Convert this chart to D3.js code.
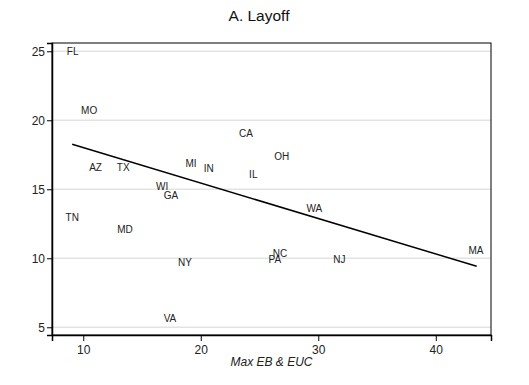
<!DOCTYPE html>
<html><head><meta charset="utf-8">
<script src="https://cdn.jsdelivr.net/npm/d3@7"></script>
<style>body{margin:0;background:#fff}svg{display:block;font-family:Arial,"Liberation Sans",sans-serif}</style>
</head><body>
<script>
const states = ["FL","MO","AZ","TX","MI","IN","CA","OH","IL","WI","GA","WA","NC","PA","NJ","MA","TN","MD","NY","VA"];
const maxEB = [9.1,10.5,11.05,13.4,19.17,20.67,23.85,26.9,24.47,16.72,17.46,29.66,26.74,26.3,31.79,43.42,9.06,13.55,18.66,17.38];
const layoff = [25.0,20.7,16.6,16.6,16.84,16.48,19.01,17.35,16.07,15.17,14.52,13.62,10.34,9.91,9.91,10.54,12.99,12.08,9.67,5.67];
const fitX = [9.06, 43.48];
const fitY = [18.26, 9.42];
const xTicks = [10,20,30,40];
const yTicks = [5,10,15,20,25];

const W=529,H=385, L=52, R=491, T=43, B=335;
const svg=d3.select("body").append("svg").attr("width",W).attr("height",H);
const x=d3.scaleLinear().domain([7.34,44.7]).range([L,R]);
const y=d3.scaleLinear().domain([4.44,25.6]).range([B,T]);

// gridlines
svg.append("g").selectAll("line").data(yTicks).join("line")
  .attr("x1",L).attr("x2",R).attr("y1",d=>y(d)).attr("y2",d=>y(d))
  .attr("stroke","#e3e3e3").attr("stroke-width",1.5);

// frame
svg.append("rect").attr("x",L).attr("y",T).attr("width",R-L).attr("height",B-T)
  .attr("fill","none").attr("stroke","#000").attr("stroke-width",1);

// axes
const xa=svg.append("g").attr("transform",`translate(0,${B})`)
  .call(d3.axisBottom(x).tickValues(xTicks).tickSize(6).tickPadding(4).tickFormat(d3.format("d")));
const ya=svg.append("g").attr("transform",`translate(${L},0)`)
  .call(d3.axisLeft(y).tickValues(yTicks).tickSize(5).tickPadding(2).tickFormat(d3.format("d")));
[xa,ya].forEach(a=>{a.select(".domain").attr("stroke","#000").attr("stroke-width",1.5);
  a.selectAll("text").attr("font-size",12).attr("fill","#222").attr("font-family","Arial,'Liberation Sans',sans-serif");
  a.selectAll(".tick line").attr("stroke","#000");});

// fit line
svg.append("path").datum(fitX.map((v,i)=>[v,fitY[i]]))
  .attr("d",d3.line().x(d=>x(d[0])).y(d=>y(d[1])))
  .attr("fill","none").attr("stroke","#000").attr("stroke-width",1.5);

// labels
svg.append("g").selectAll("text").data(states).join("text")
  .attr("x",(d,i)=>x(maxEB[i])).attr("y",(d,i)=>y(layoff[i]))
  .attr("text-anchor","middle").attr("dominant-baseline","central")
  .attr("font-size",10).attr("fill","#222").text(d=>d);

// title
svg.append("text").attr("x",259).attr("y",15).attr("text-anchor","middle")
  .attr("dominant-baseline","central").attr("font-size",15.5).attr("fill","#111").text("A. Layoff");
// x title
svg.append("text").attr("x",(L+R)/2).attr("y",362).attr("text-anchor","middle")
  .attr("dominant-baseline","central").attr("font-size",12).attr("font-style","italic").attr("fill","#222").text("Max EB & EUC");
</script>
</body></html>
